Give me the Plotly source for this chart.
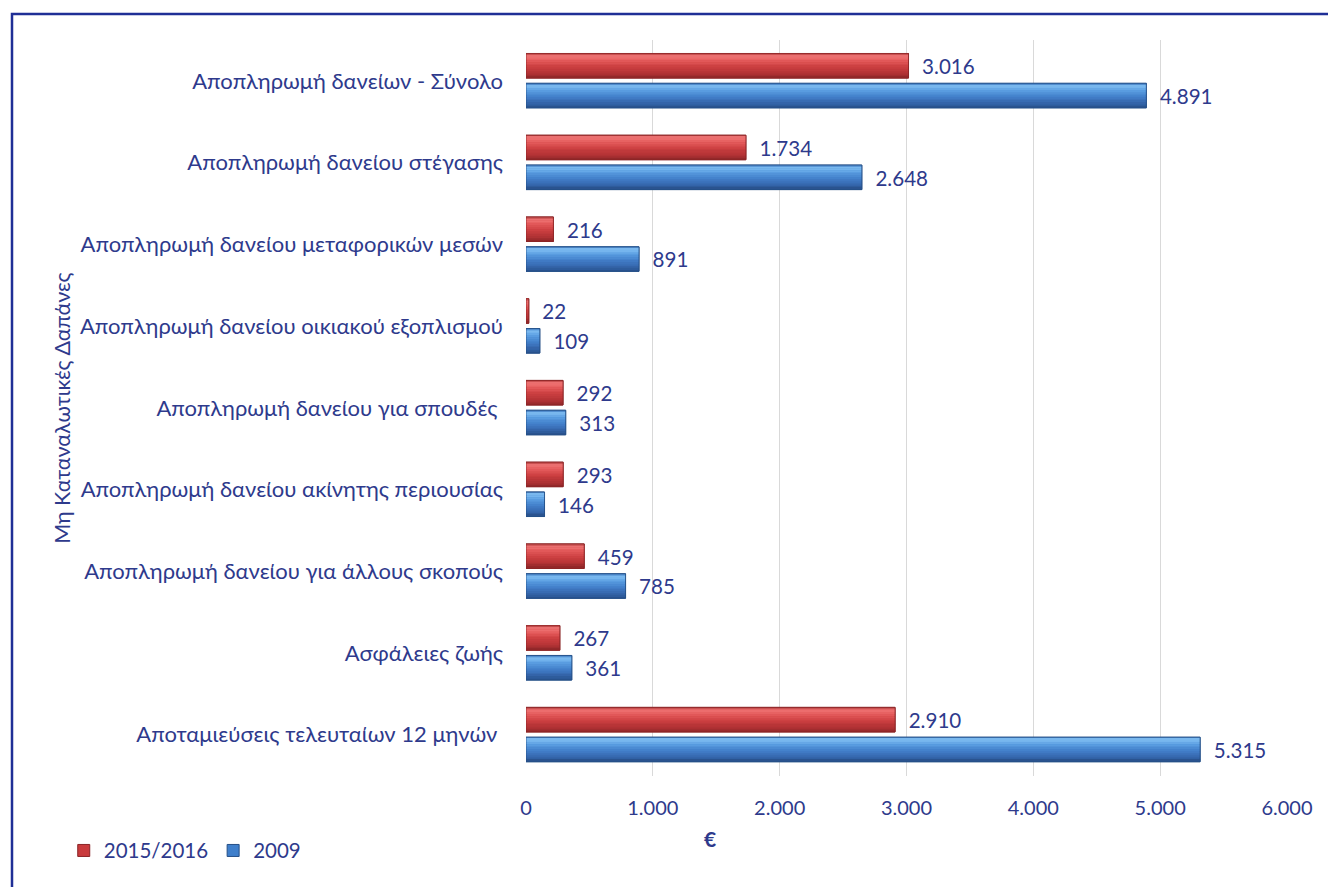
import plotly.graph_objects as go

categories = [
    "Αποπληρωμή δανείων - Σύνολο",
    "Αποπληρωμή δανείου στέγασης",
    "Αποπληρωμή δανείου μεταφορικών μεσών",
    "Αποπληρωμή δανείου οικιακού εξοπλισμού",
    "Αποπληρωμή δανείου για σπουδές\u00a0",
    "Αποπληρωμή δανείου ακίνητης περιουσίας",
    "Αποπληρωμή δανείου για άλλους σκοπούς",
    "Ασφάλειες ζωής",
    "Αποταμιεύσεις τελευταίων 12 μηνών\u00a0",
]
values_2015_2016 = [3016, 1734, 216, 22, 292, 293, 459, 267, 2910]
values_2009 = [4891, 2648, 891, 109, 313, 146, 785, 361, 5315]
series_names = ["2015/2016", "2009"]
x_ticks = [0, 1000, 2000, 3000, 4000, 5000, 6000]

TXT = "#2E3A8C"
FONT = "Lato"


def hex2rgb(h):
    h = h.lstrip("#")
    return [int(h[i:i + 2], 16) for i in (0, 2, 4)]


def profile_color(profile, t):
    for (t0, c0), (t1, c1) in zip(profile, profile[1:]):
        if t0 <= t <= t1:
            f = (t - t0) / (t1 - t0) if t1 > t0 else 0
            a, b = hex2rgb(c0), hex2rgb(c1)
            return "rgb(%d,%d,%d)" % tuple(round(a[i] + (b[i] - a[i]) * f) for i in range(3))
    return profile[-1][1]


red_profile = [(0.0, "#B84040"), (0.12, "#F07676"), (0.3, "#E45A5B"),
               (0.55, "#CC3F41"), (0.8, "#B33335"), (1.0, "#8C2628")]
blue_profile = [(0.0, "#3C78C0"), (0.12, "#82C0F4"), (0.3, "#5B9FE2"),
                (0.55, "#4380CB"), (0.8, "#3567AD"), (1.0, "#274F88")]

fig = go.Figure()

W = 0.30
N = 14
styles = [
    (values_2015_2016, series_names[0], "#C93B3D", "#8A2426", red_profile, -0.335),
    (values_2009, series_names[1], "#3F7FCB", "#254F86", blue_profile, 0.03),
]
for vals, name, legend_col, outline, prof, off in styles:
    fig.add_trace(go.Bar(
        y=categories, x=vals, orientation="h", name=name,
        marker=dict(color=legend_col, line=dict(color=outline, width=1)),
        width=W, offset=off,
        text=vals, texttemplate="\u00a0\u00a0%{x:,}", textposition="outside",
        textfont=dict(color=TXT, size=21, family=FONT),
        cliponaxis=False, showlegend=True,
    ))
    sw = W / N
    for k in range(N):
        t = (k + 0.5) / N
        fig.add_trace(go.Bar(
            y=categories, x=vals, orientation="h", showlegend=False,
            marker=dict(color=profile_color(prof, t), line=dict(width=0)),
            width=sw + 0.003, offset=off + k * sw, hoverinfo="skip",
        ))
    fig.add_trace(go.Bar(
        y=categories, x=vals, orientation="h", showlegend=False,
        marker=dict(color="rgba(0,0,0,0)", line=dict(color=outline, width=0.8)),
        width=W, offset=off, hoverinfo="skip",
    ))

fig.update_layout(
    width=1328, height=887,
    barmode="overlay",
    separators=",.",
    paper_bgcolor="white", plot_bgcolor="white",
    margin=dict(l=526, r=41, t=40, b=110),
    font=dict(family=FONT, color=TXT, size=21),
    showlegend=True,
    legend=dict(
        orientation="h", xref="container", yref="container",
        x=0.048, y=0.041, xanchor="left", yanchor="middle",
        font=dict(size=20.5, color=TXT, family=FONT),
        traceorder="normal", itemwidth=30,
    ),
    xaxis=dict(
        range=[0, 6000], tickvals=x_ticks, tickformat=",",
        showgrid=True, gridcolor="#D9D9D9", gridwidth=1,
        zeroline=False, showline=False, ticks="",
        ticklabelstandoff=18,
        tickfont=dict(size=20, color=TXT, family=FONT),
    ),
    yaxis=dict(
        autorange="reversed", showgrid=False, zeroline=False,
        showline=False, ticks="", ticklabelstandoff=22,
        tickfont=dict(size=22, color=TXT, family=FONT),
    ),
    annotations=[
        dict(text="€", xref="paper", yref="paper",
             x=(710 - 526) / 761, y=-(840 - 777) / 737,
             xanchor="center", yanchor="middle",
             showarrow=False, font=dict(size=21, color=TXT, family=FONT, weight="bold")),
        dict(text="Μη Καταναλωτικές Δαπάνες", xref="paper", yref="paper",
             x=(62 - 526) / 761, y=0.5, textangle=-90,
             xanchor="center", yanchor="middle",
             showarrow=False, font=dict(size=21.5, color=TXT, family=FONT)),
    ],
    shapes=[
        dict(type="rect", xref="paper", yref="paper",
             x0=(12 - 526) / 761, x1=2.0,
             y0=-1.0, y1=(777 - 14) / 737,
             line=dict(color="#1F2F96", width=2.5), layer="above"),
    ],
)

fig.write_html("out.html", config={"displayModeBar": False},
               post_script="document.body.style.margin='0';")
